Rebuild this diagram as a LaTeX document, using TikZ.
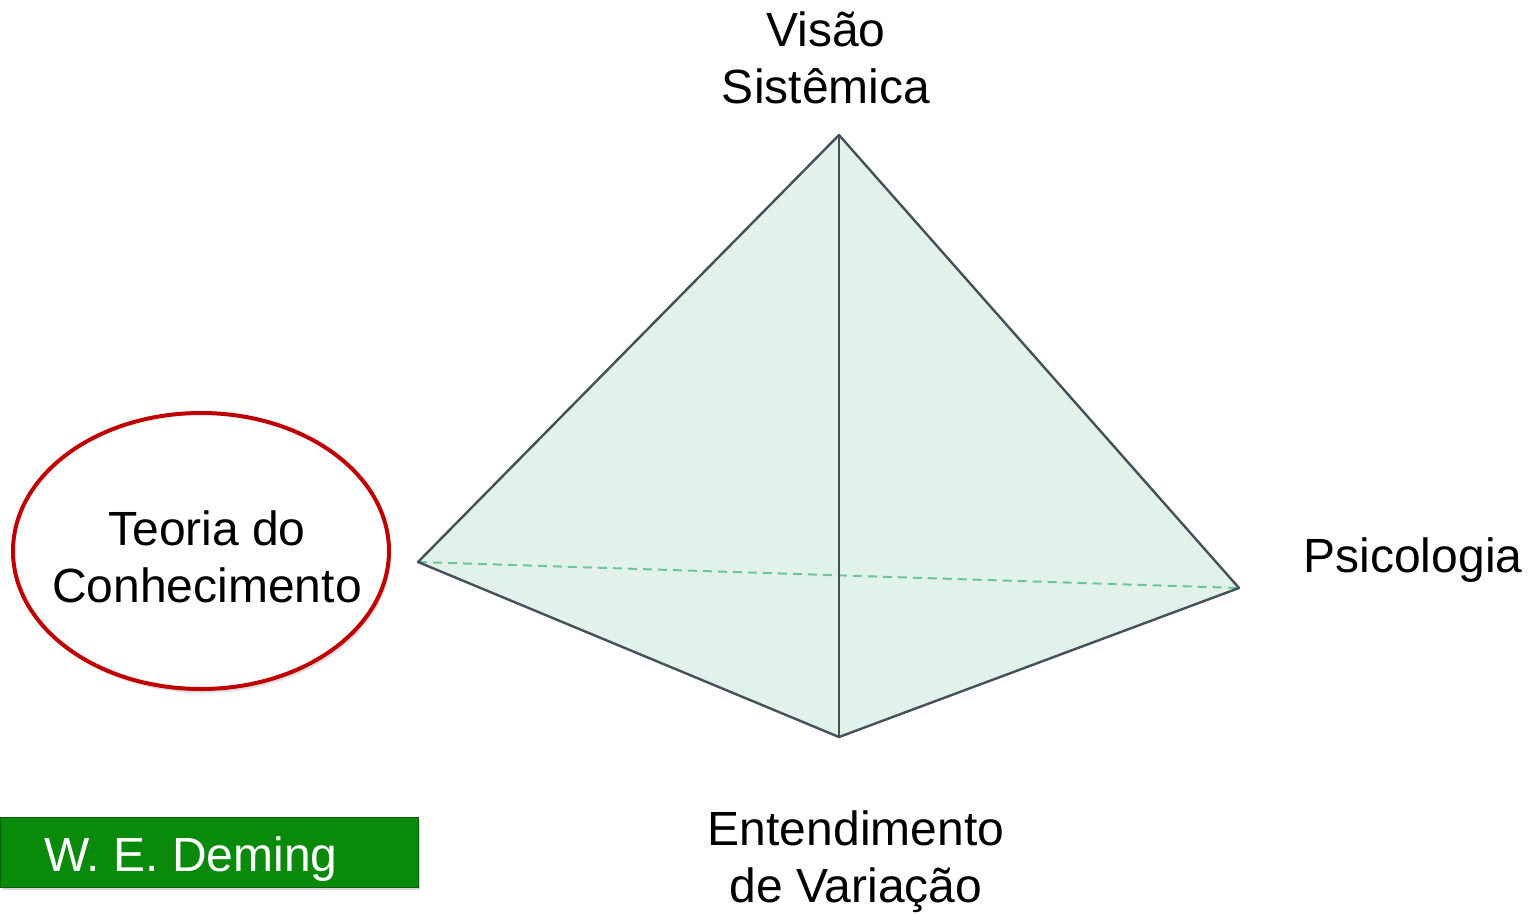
\documentclass[tikz,border=0pt]{standalone}
\usepackage{fontspec}
\setmainfont{Liberation Sans}
\usetikzlibrary{shadows,shapes.geometric}
\definecolor{facefill}{HTML}{E2F2EA}
\definecolor{edgecol}{HTML}{44505A}
\definecolor{dashcol}{HTML}{6CC49A}
\definecolor{ovalred}{HTML}{C00000}
\definecolor{boxgreen}{HTML}{0A8A0A}
\tikzset{
  edge/.style={draw=edgecol, line width=2.4pt, line join=round},
  lbl/.style={font=\fontsize{48}{57}\selectfont, align=center, text=black, inner sep=0pt},
}
\begin{document}
\begin{tikzpicture}[x=1pt,y=-1pt]
\useasboundingbox (0,0) rectangle (1530,913);
% vertices
\coordinate (A) at (839,135);
\coordinate (L) at (418,562);
\coordinate (R) at (1239,588);
\coordinate (B) at (839,737);
% faces
\fill[facefill] (A) -- (L) -- (B) -- cycle;
\fill[facefill] (A) -- (R) -- (B) -- cycle;
% hidden edge
\draw[dashcol, line width=2pt, dash pattern=on 9pt off 6pt] (L) -- (R);
% visible edges
\draw[edge] (A) -- (L) -- (B) -- (R) -- cycle;
\draw[edge] (A) -- (B);
% labels
\node[lbl] (top) at (826,58) {Visão\\Sistêmica};
\node[lbl] (psi) at (1413,560) {Psicologia};
\node[lbl] (bot) at (856,862) {Entendimento\\de Variação};
% ellipse
\node[draw=ovalred, line width=4pt, ellipse, minimum width=376pt, minimum height=276pt,
      drop shadow={opacity=0.25, shadow xshift=2pt, shadow yshift=-4pt}, fill=white, inner sep=0pt] (oval) at (201,551) {};
\node[lbl] (teo) at (207,557) {Teoria do\\Conhecimento};
% green box
\node[fill=boxgreen, draw=boxgreen!70!black, line width=1pt, minimum width=418pt, minimum height=70pt, inner sep=0pt,
      drop shadow={opacity=0.3, shadow xshift=2pt, shadow yshift=-3pt}] (dem) at (209,852) {};
\node[text=white, font=\fontsize{48}{57}\selectfont, inner sep=0pt] (demtxt) at (191,859) {W. E. Deming};
\end{tikzpicture}
\end{document}
